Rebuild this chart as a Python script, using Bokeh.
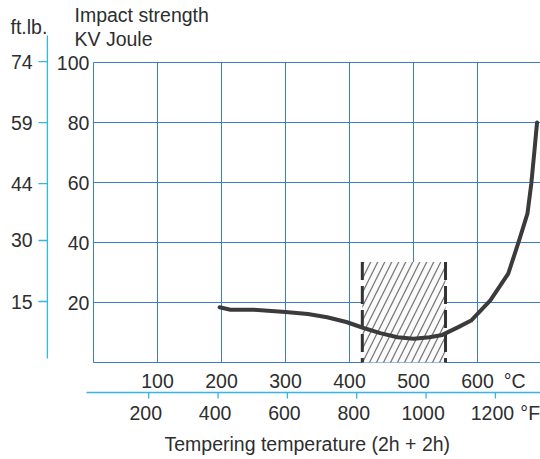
from bokeh.plotting import figure
from bokeh.models import Range1d, FixedTicker, Grid
from bokeh.core.properties import value
from bokeh.embed import file_html
from bokeh.resources import INLINE

# ---------------- data ----------------
temp_c = [197, 214, 250, 300, 335, 365, 395, 422, 448, 475, 500, 525, 545, 570,
          590, 620, 648, 665, 678, 684, 689, 693]
kv_joule = [18.4, 17.6, 17.6, 16.8, 16.2, 15.1, 13.5, 11.5, 9.8, 8.4, 7.9, 8.4,
            9.2, 11.8, 14.0, 20.7, 29.6, 40.7, 49.6, 59.6, 70.7, 80.0]

c_ticks = [100, 200, 300, 400, 500, 600]
f_ticks = [200, 400, 600, 800, 1000, 1200]
j_ticks = [20, 40, 60, 80, 100]
ftlb_ticks = [15, 30, 44, 59, 74]

band_c = [420, 550]      # hatched tempering range, °C
band_top = 33.5          # J

J_TO_FTLB = 0.7376

# ---------------- scales (frame = whole canvas) ----------------
X_RANGE = (-145.3, 698.4)        # °C
Y_RANGE = (-32.33, 120.67)       # KV Joule
F_RANGE = (-227.6, 1330.1)       # °F scale of the lower axis

FONT = value("Liberation Sans")
FS = value("19.5px")
TXT = "#2e2e2e"
BLUE = "#3d7cc6"
CYAN = "#35b5e6"

p = figure(width=540, height=459,
           x_range=Range1d(*X_RANGE), y_range=Range1d(*Y_RANGE),
           output_backend="svg", toolbar_location=None,
           x_axis_location=None, y_axis_location=None, min_border=0)
p.outline_line_color = None
for g in p.grid:
    g.visible = False
p.extra_x_ranges = {"F": Range1d(*F_RANGE)}


def txt(x, y, labels, align, **kw):
    p.text(x=x, y=y, text=labels, text_font=FONT, text_font_size=FS,
           text_color=TXT, text_align=align, text_baseline="middle", **kw)


# ---------------- grid and frame ----------------
try:
    p.add_layout(Grid(dimension=1, ticker=FixedTicker(ticks=j_ticks),
                      grid_line_color=BLUE, cross_bounds=(0, 700)))
    p.add_layout(Grid(dimension=0, ticker=FixedTicker(ticks=c_ticks),
                      grid_line_color=BLUE, cross_bounds=(0, 100)))
except Exception:
    p.segment(x0=[0] * len(j_ticks), y0=j_ticks, x1=[700] * len(j_ticks), y1=j_ticks,
              line_color=BLUE, line_width=1)
    p.segment(x0=c_ticks, y0=[0] * len(c_ticks), x1=c_ticks, y1=[100] * len(c_ticks),
              line_color=BLUE, line_width=1)

p.segment(x0=[0, 0], y0=[0, 0], x1=[0, 700], y1=[100, 0], line_color=BLUE, line_width=1)

# ---------------- left axes ----------------
txt([-6.5] * len(j_ticks), j_ticks, [str(v) for v in j_ticks], "right")

ftlb_pos = [v / J_TO_FTLB for v in ftlb_ticks]
p.segment(x0=[-72], y0=[109], x1=[-72], y1=[1.3], line_color=CYAN, line_width=1.3)
p.segment(x0=[-86] * len(ftlb_pos), y0=ftlb_pos, x1=[-72] * len(ftlb_pos), y1=ftlb_pos,
          line_color=CYAN, line_width=1.3)
txt([-95] * len(ftlb_pos), ftlb_pos, [str(v) for v in ftlb_ticks], "right")

# ---------------- bottom axes ----------------
txt(c_ticks, [-6] * len(c_ticks), [str(v) for v in c_ticks], "center")
txt([641], [-6], ["°C"], "left")

p.segment(x0=[-11], y0=[-10], x1=[700], y1=[-10], line_color=CYAN, line_width=1.3)
p.segment(x0=f_ticks, y0=[-10] * len(f_ticks), x1=f_ticks, y1=[-12] * len(f_ticks),
          line_color=CYAN, line_width=1.3, x_range_name="F")
txt(f_ticks, [-16.7] * len(f_ticks), [str(v) for v in f_ticks], "center",
    x_range_name="F", x_offset=-3)
txt([1272], [-16.7], ["°F"], "left", x_range_name="F")

txt([334], [-27.1], ["Tempering temperature (2h + 2h)"], "center")

# ---------------- titles of the vertical scales ----------------
txt([-129.7], [111.8], ["ft.lb."], "left")
txt([-29.7, -29.7], [115.8, 107.9], ["Impact strength", "KV Joule"], "left")

# ---------------- hatched tempering band ----------------
p.quad(left=[band_c[0]], right=[band_c[1]], bottom=[0], top=[band_top],
       fill_color="#fbfbfb", line_color=None,
       hatch_pattern="/", hatch_color="#7a7a7a", hatch_weight=1.3, hatch_scale=14)
p.segment(x0=band_c, y0=[band_top] * 2, x1=band_c, y1=[0, 0],
          line_color="#333333", line_width=3, line_dash="18 6")

# ---------------- curve ----------------
p.line(temp_c, kv_joule, line_color="#3b3b3b", line_width=4,
       line_join="round", line_cap="round")

with open("out.html", "w", encoding="utf-8") as fh:
    fh.write(file_html(p, INLINE, "Impact strength"))
